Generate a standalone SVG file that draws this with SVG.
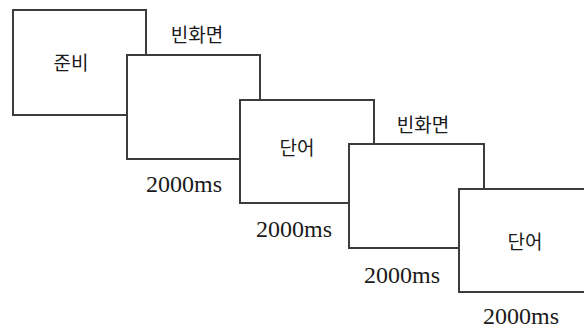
<svg xmlns="http://www.w3.org/2000/svg" width="584" height="328" viewBox="0 0 584 328">
<style>
.box{fill:#fff;stroke:#3c3c3c;stroke-width:2}
.ko{font-family:"Noto Sans CJK KR","Noto Sans",sans-serif;font-size:19px;fill:#1a1a1a;text-anchor:middle}
.ms{font-family:"Liberation Serif","DejaVu Serif",serif;font-size:24px;fill:#1a1a1a;text-anchor:middle}
</style>
<rect width="584" height="328" fill="#fff"/>
<g id="node-prep">
<rect class="box" x="13" y="10" width="133" height="105"/>
<text class="ko" x="71" y="70">준비</text>
</g>
<g id="node-blank1">
<rect class="box" x="127" y="55" width="133" height="104"/>
<text class="ko" x="197" y="42">빈화면</text>
<text class="ms" x="184" y="192">2000ms</text>
</g>
<g id="node-word1">
<rect class="box" x="240" y="100" width="134" height="103"/>
<text class="ko" x="297" y="155">단어</text>
<text class="ms" x="294" y="237">2000ms</text>
</g>
<g id="node-blank2">
<rect class="box" x="349" y="144" width="135" height="104"/>
<text class="ko" x="423" y="132">빈화면</text>
<text class="ms" x="402" y="283">2000ms</text>
</g>
<g id="node-word2">
<rect class="box" x="459" y="189" width="140" height="103"/>
<text class="ko" x="525" y="249">단어</text>
<text class="ms" x="521" y="324">2000ms</text>
</g>
<g id="connectors"></g>
</svg>
